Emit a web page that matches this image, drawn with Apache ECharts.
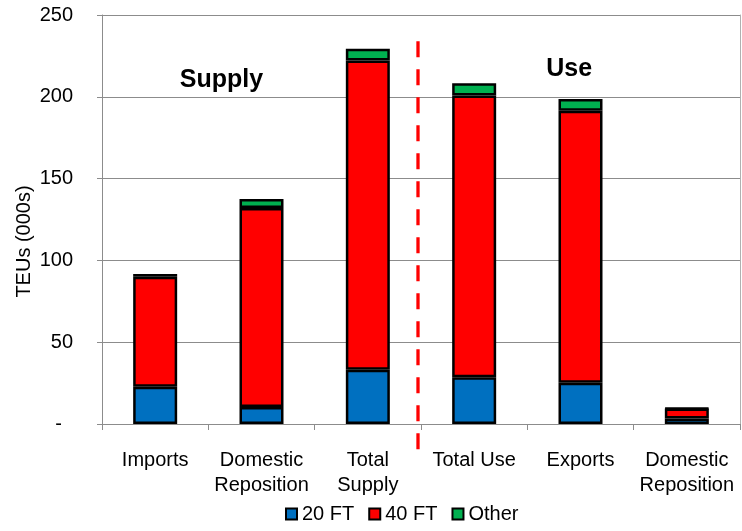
<!DOCTYPE html>
<html>
<head>
<meta charset="utf-8">
<script src="https://cdn.jsdelivr.net/npm/echarts@6/dist/echarts.min.js"></script>
<style>
  html, body { margin: 0; padding: 0; background: #fff; }
  #chart { width: 742px; height: 531px; }
</style>
</head>
<body>
<div id="chart"></div>
<script>
// Container flows (thousand TEUs), stacked by container type
const categories = ['Imports', 'Domestic\nReposition', 'Total\nSupply', 'Total Use', 'Exports', 'Domestic\nReposition'];
const ft20  = [22.8, 10.4, 33.2, 28.5, 25.2, 3.4];
const ft40  = [67.2, 121.7, 189.0, 172.3, 166.3, 6.0];
const other = [1.7, 5.5, 7.2, 7.5, 7.2, 0.3];
const yTicks = [0, 50, 100, 150, 200, 250];
const sectionLabels = ['Supply', 'Use'];

const FONT = 'Liberation Sans, Arial, sans-serif';
const GRID_GREY = '#8c8c8c';
const chart = echarts.init(document.getElementById('chart'), null, { renderer: 'canvas' });

function barSeries(name, data, color) {
  return {
    name: name,
    type: 'bar',
    stack: 'teu',
    data: data,
    barWidth: 44,
    itemStyle: { color: color, borderColor: '#000', borderWidth: 2.5 },
    emphasis: { disabled: true },
    animation: false
  };
}

chart.setOption({
  animation: false,
  textStyle: { fontFamily: FONT },
  grid: { left: 102, right: 2, top: 15, bottom: 107 },
  legend: {
    bottom: 2,
    left: 280,
    itemWidth: 11,
    itemHeight: 11,
    itemGap: 14,
    icon: 'rect',
    textStyle: { fontSize: 20, color: '#000', fontFamily: FONT },
    data: ['20 FT', '40 FT', 'Other']
  },
  xAxis: {
    type: 'category',
    data: categories,
    axisLine: { lineStyle: { color: GRID_GREY, width: 1 } },
    axisTick: { show: true, length: 6, interval: 0, lineStyle: { color: GRID_GREY } },
    axisLabel: { fontSize: 20, color: '#000', margin: 24, lineHeight: 25, interval: 0, fontFamily: FONT },
    splitLine: { show: false }
  },
  yAxis: [
    {
      type: 'value',
      min: yTicks[0],
      max: yTicks[yTicks.length - 1],
      interval: 50,
      name: 'TEUs (000s)',
      nameLocation: 'middle',
      nameGap: 68,
      nameMoveOverlap: false,
      nameTextStyle: { fontSize: 20, color: '#000', fontFamily: FONT, padding: [0, 44, 0, 0] },
      axisLine: { show: true, lineStyle: { color: GRID_GREY, width: 1 } },
      axisTick: { show: true, length: 5, lineStyle: { color: GRID_GREY } },
      axisLabel: {
        fontSize: 20, color: '#000', margin: 29, fontFamily: FONT,
        formatter: function (v) { return v === 0 ? '{d|-}' : String(v); },
        rich: { d: { fontSize: 20, padding: [0, 11, 0, 0], fontFamily: FONT } }
      },
      splitLine: { show: true, lineStyle: { color: GRID_GREY, width: 1 } }
    },
    {
      // right-hand frame of the plot area
      type: 'value',
      position: 'right',
      min: yTicks[0],
      max: yTicks[yTicks.length - 1],
      interval: 50,
      axisLine: { show: true, lineStyle: { color: '#b0b0b0', width: 1 } },
      axisTick: { show: false },
      axisLabel: { show: false },
      splitLine: { show: false }
    }
  ],
  series: [
    barSeries('20 FT', ft20, '#0070C0'),
    barSeries('40 FT', ft40, '#FF0000'),
    barSeries('Other', other, '#00B050')
  ]
});

// Divider between supply and use groups, plus section headings
const xA = chart.convertToPixel({ xAxisIndex: 0 }, 2);
const xB = chart.convertToPixel({ xAxisIndex: 0 }, 3);
const xMid = (xA + xB) / 2 - 3;
const ySupply = chart.convertToPixel({ yAxisIndex: 0 }, 210);
const yUse = chart.convertToPixel({ yAxisIndex: 0 }, 217);
const yTopDash = chart.convertToPixel({ yAxisIndex: 0 }, 234);

chart.setOption({
  graphic: [
    {
      type: 'line',
      shape: { x1: xMid, y1: yTopDash, x2: xMid, y2: 450 },
      style: { stroke: '#FF0000', lineWidth: 3.3, lineDash: [16, 12] },
      z: 10
    },
    {
      type: 'text',
      x: chart.convertToPixel({ xAxisIndex: 0 }, 1) - 40,
      y: ySupply,
      style: { text: sectionLabels[0], font: 'bold 25px ' + FONT, fill: '#000', textAlign: 'center', textVerticalAlign: 'middle' }
    },
    {
      type: 'text',
      x: xB + 95,
      y: yUse,
      style: { text: sectionLabels[1], font: 'bold 25px ' + FONT, fill: '#000', textAlign: 'center', textVerticalAlign: 'middle' }
    }
  ]
});
</script>
</body>
</html>
